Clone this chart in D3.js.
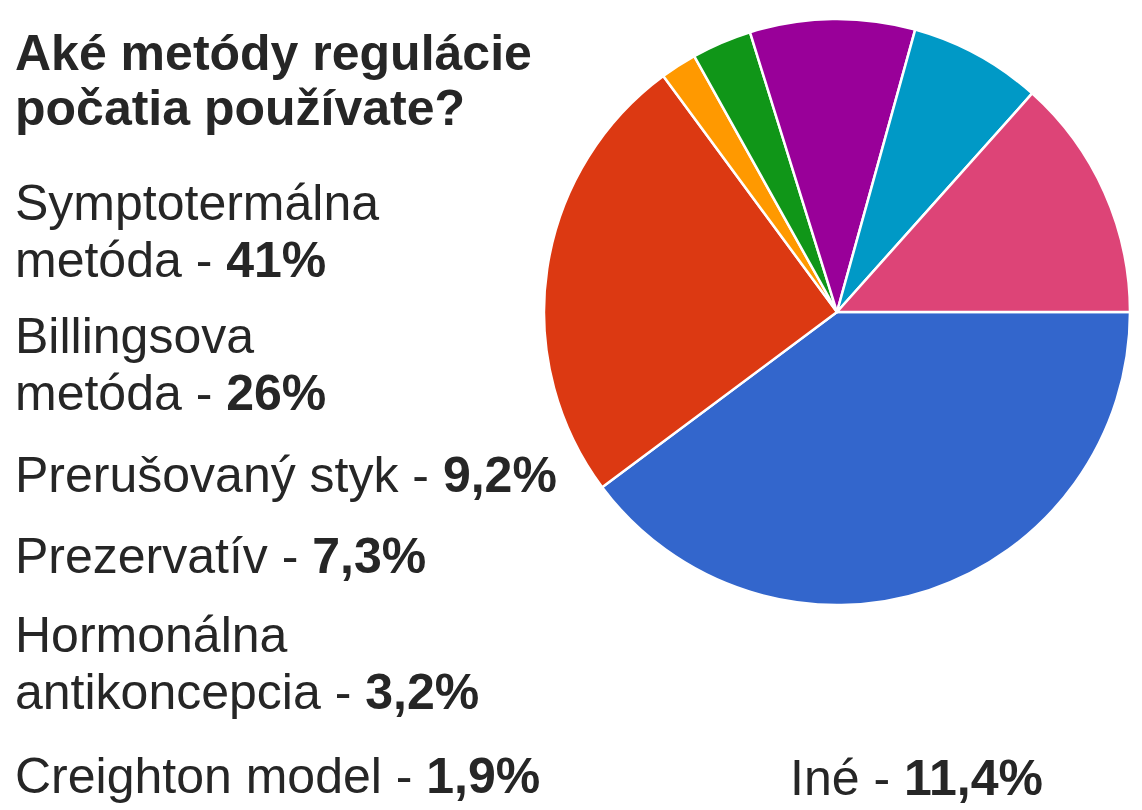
<!DOCTYPE html>
<html>
<head>
<meta charset="utf-8">
<script src="https://cdn.jsdelivr.net/npm/d3@7"></script>
<style>
  html, body { margin: 0; padding: 0; background: #ffffff; }
  svg { display: block; }
  text { font-family: "Liberation Sans", Arial, Helvetica, sans-serif; fill: #262626; }
</style>
</head>
<body>
<svg id="chart" width="1142" height="810"></svg>
<script>
// ---- data ----
const titleLines = ["Aké metódy regulácie", "počatia používate?"];

// legend entries (left column), text lines and bold percentage
const legendCategories = [
  ["Symptotermálna", "metóda"],
  ["Billingsova", "metóda"],
  ["Prerušovaný styk"],
  ["Prezervatív"],
  ["Hormonálna", "antikoncepcia"],
  ["Creighton model"]
];
const legendPercents = ["41%", "26%", "9,2%", "7,3%", "3,2%", "1,9%"];

const otherCategory = "Iné";
const otherPercent = "11,4%";

// pie slices in drawing order (clockwise from 3 o'clock), shares
const pieCategories = ["Symptotermálna metóda", "Billingsova metóda", "Creighton model",
  "Hormonálna antikoncepcia", "Prerušovaný styk", "Prezervatív", "Iné"];
const pieShares = [39.8, 25.1, 2.0, 3.3, 9.1, 7.3, 13.4];
const pieColors = ["#3366cc", "#dc3912", "#ff9900", "#109618", "#990099", "#0099c6", "#dd4477"];

// ---- layout ----
const svg = d3.select("#chart");
const textX = 15;
const fontSize = 50;
const lineStep = 57;
const titleBaselines = [70, 125];
const blockBaselines = [220, 353, 492, 573, 652, 793]; // first line of each legend block

// title
svg.append("g").selectAll("text")
  .data(titleLines)
  .join("text")
  .attr("x", textX)
  .attr("y", (d, i) => titleBaselines[i])
  .attr("font-size", fontSize)
  .attr("font-weight", "bold")
  .text(d => d);

// legend blocks
const legend = svg.append("g");
legendCategories.forEach((lines, bi) => {
  lines.forEach((line, li) => {
    const t = legend.append("text")
      .attr("x", textX)
      .attr("y", blockBaselines[bi] + li * lineStep)
      .attr("font-size", fontSize);
    if (li === lines.length - 1) {
      t.append("tspan").text(line + " - ");
      t.append("tspan").attr("font-weight", "bold").text(legendPercents[bi]);
    } else {
      t.text(line);
    }
  });
});

// "Iné" label
const ine = svg.append("text")
  .attr("x", 790)
  .attr("y", 795)
  .attr("font-size", fontSize);
ine.append("tspan").text(otherCategory + " - ");
ine.append("tspan").attr("font-weight", "bold").text(otherPercent);

// pie
const cx = 837, cy = 312, radius = 293;
const pie = d3.pie().sort(null).value(d => d)
  .startAngle(Math.PI / 2).endAngle(Math.PI / 2 + 2 * Math.PI);
const arc = d3.arc().innerRadius(0).outerRadius(radius);
const color = d3.scaleOrdinal().domain(pieCategories).range(pieColors);

svg.append("g")
  .attr("transform", `translate(${cx},${cy})`)
  .selectAll("path")
  .data(pie(pieShares))
  .join("path")
  .attr("d", arc)
  .attr("fill", (d, i) => color(pieCategories[i]))
  .attr("stroke", "#ffffff")
  .attr("stroke-width", 2.5)
  .attr("stroke-linejoin", "round");
</script>
</body>
</html>
